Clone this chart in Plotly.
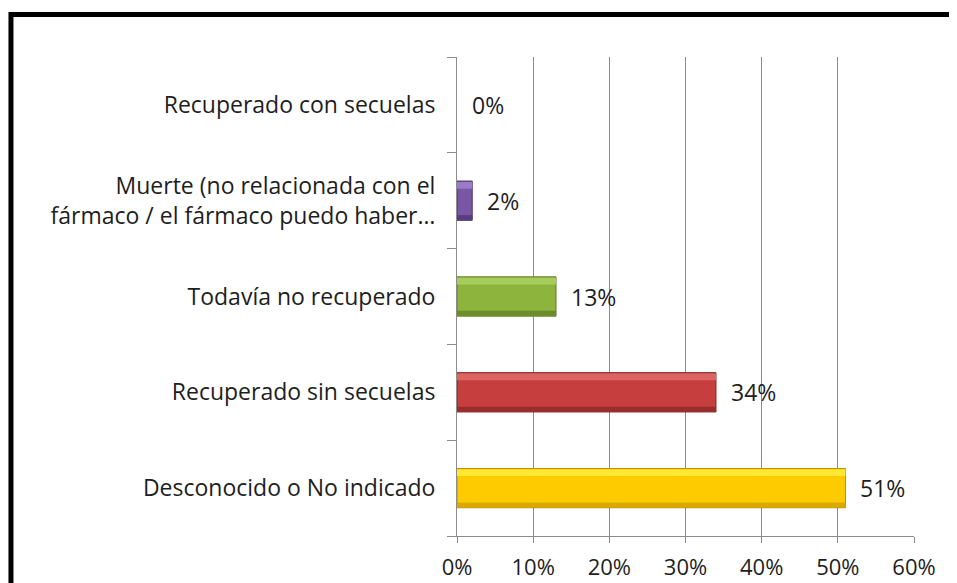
import plotly.graph_objects as go

# categorias (de abajo hacia arriba)
categorias = [
    "Desconocido o No indicado",
    "Recuperado sin secuelas",
    "Todavía no recuperado",
    "Muerte (no relacionada con el<br>fármaco / el fármaco puedo haber…",
    "Recuperado con secuelas",
]
porcentajes = [51, 34, 13, 2, 0]
etiquetas = ["51%", "34%", "13%", "2%", "0%"]
ticks_x = [0, 10, 20, 30, 40, 50, 60]
ticks_x_txt = ["0%", "10%", "20%", "30%", "40%", "50%", "60%"]

color_base = ["#fecb00", "#c63f3e", "#8db43d", "#7a57a4", "#7a57a4"]
color_luz = ["#ffe733", "#de6463", "#a7cc5c", "#9a7bc8", "#9a7bc8"]
color_sombra = ["#d9a900", "#9a2c2c", "#6c8c2b", "#573d80", "#573d80"]
color_borde = ["#b89000", "#7f2525", "#5d7a25", "#4a3470", "#4a3470"]

fuente = "Open Sans"
borde_w = [1 if v > 0 else 0 for v in porcentajes]

fig = go.Figure()
fig.add_trace(go.Bar(
    y=categorias, x=porcentajes, orientation="h", width=0.41,
    marker=dict(color=color_base, line=dict(color=color_borde, width=borde_w)),
    showlegend=False, hoverinfo="skip",
))
# brillo superior y sombra inferior (efecto bisel)
fig.add_trace(go.Bar(
    y=categorias, x=porcentajes, orientation="h", width=0.07, offset=0.125,
    marker=dict(color=color_luz, line=dict(width=0)),
    showlegend=False, hoverinfo="skip",
))
fig.add_trace(go.Bar(
    y=categorias, x=porcentajes, orientation="h", width=0.05, offset=-0.2,
    marker=dict(color=color_sombra, line=dict(width=0)),
    showlegend=False, hoverinfo="skip",
))

for c, v, t in zip(categorias, porcentajes, etiquetas):
    fig.add_annotation(x=v, y=c, text=t, showarrow=False, xanchor="left",
                       xshift=13, font=dict(family=fuente, size=23, color="#1e1e1e"))

fig.update_layout(
    width=949, height=575,
    margin=dict(l=449, r=43, t=49, b=47),
    paper_bgcolor="white", plot_bgcolor="white",
    barmode="overlay",
    font=dict(family=fuente, size=23, color="#1e1e1e"),
    shapes=[dict(type="rect", xref="paper", yref="paper",
                 x0=-0.976, x1=1.2, y0=-0.2, y1=1.0887,
                 line=dict(color="black", width=5), layer="above")],
)
fig.update_xaxes(
    range=[0, 60], tickvals=ticks_x, ticktext=ticks_x_txt,
    tickfont=dict(size=22),
    showgrid=True, gridcolor="#8c8c8c", gridwidth=1,
    showline=True, linecolor="#8c8c8c", ticks="outside", ticklen=6,
    tickcolor="#8c8c8c", ticklabelstandoff=6, zeroline=False,
    automargin=False, fixedrange=True,
)
fig.update_yaxes(
    categoryorder="array", categoryarray=categorias,
    showline=True, linecolor="#8c8c8c", ticks="outside", ticklen=9,
    tickcolor="#8c8c8c", tickson="boundaries", ticklabelstandoff=16,
    showgrid=False, automargin=False, fixedrange=True,
)

fig.write_html("out.html")
